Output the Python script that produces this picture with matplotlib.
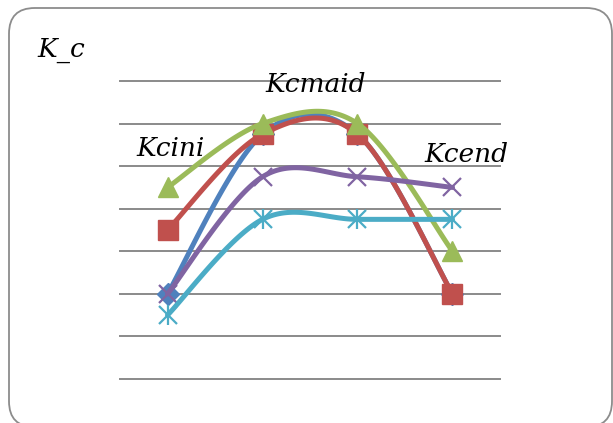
import numpy as np
import matplotlib
matplotlib.use("Agg")
import matplotlib.pyplot as plt
from matplotlib.patches import FancyBboxPatch

# Crop coefficient by growth stage
stages = ["1", "2", "3", "4"]
kc_blue = [0.40, 1.15, 1.15, 0.40]
kc_red = [0.70, 1.15, 1.15, 0.40]
kc_green = [0.90, 1.20, 1.20, 0.60]
kc_purple = [0.40, 0.95, 0.95, 0.90]
kc_cyan = [0.30, 0.75, 0.75, 0.75]
y_ticks = [0.0, 0.2, 0.4, 0.6, 0.8, 1.0, 1.2, 1.4]

W, H = 613, 423
fig = plt.figure(figsize=(W / 100, H / 100), dpi=100)
fig.patch.set_facecolor("white")

# rounded chart-area border (runs just off the bottom edge)
border = FancyBboxPatch((9.0 / W, -4.0 / H), 603 / W, 419 / H,
                        boxstyle="round,pad=0,rounding_size=0.042",
                        transform=fig.transFigure, facecolor="none",
                        edgecolor="#8c8c8c", linewidth=1.3, mutation_aspect=W / H,
                        zorder=-1)
fig.patches.append(border)

ax = fig.add_axes([120 / W, (H - 379) / H, 380 / W, 298 / H])
ax.set_xlim(0.5, 4.5)
ax.set_ylim(0, 1.4)
ax.axis("off")

for yv in y_ticks:
    ax.axhline(yv, color="#8a8a8a", lw=1.4, zorder=1, clip_on=False)


def smooth(xs, ys, n=40):
    """Cubic Bezier smoothing through the points (Catmull-Rom style)."""
    P = np.column_stack([xs, ys]).astype(float)
    ext = np.vstack([P[0], P, P[-1]])
    out = []
    t = np.linspace(0, 1, n)[:, None]
    for i in range(len(P) - 1):
        p0, p1, p2, p3 = ext[i], ext[i + 1], ext[i + 2], ext[i + 3]
        c1 = p1 + (p2 - p0) / 6
        c2 = p2 - (p3 - p1) / 6
        seg = ((1 - t) ** 3) * p1 + 3 * ((1 - t) ** 2) * t * c1 + 3 * (1 - t) * t ** 2 * c2 + t ** 3 * p2
        out.append(seg if i == 0 else seg[1:])
    s = np.vstack(out)
    return s[:, 0], s[:, 1]


x = np.arange(1, len(stages) + 1)
series = [
    (kc_blue, "#4F81BD", "D", 11),
    (kc_red, "#C0504D", "s", 14),
    (kc_green, "#9BBB59", "^", 15),
    (kc_purple, "#8064A2", "x", 13),
    (kc_cyan, "#4BACC6", "x", 13),
]
for z, (vals, col, mk, ms) in enumerate(series):
    sx, sy = smooth(x, vals)
    ax.plot(sx, sy, color=col, lw=3.6, solid_capstyle="round", zorder=3 + z * 2)
    if mk == "x":
        ax.plot(x, vals, ls="none", marker="x", ms=ms, mew=1.6, color=col,
                zorder=4 + z * 2, clip_on=False)
        if col == "#4BACC6":
            ax.plot(x, vals, ls="none", marker="|", ms=ms * 1.15, mew=1.6, color=col,
                    zorder=4 + z * 2, clip_on=False)
    else:
        ax.plot(x, vals, ls="none", marker=mk, ms=ms, color=col, mec=col,
                zorder=4 + z * 2, clip_on=False)

font = dict(family="DejaVu Serif", style="italic", color="black")
fig.text(37 / W, 1 - 50 / H, "K_c", fontsize=19, va="center", ha="left", **font)
fig.text(316 / W, 1 - 84 / H, "Kcmaid", fontsize=19, va="center", ha="center", **font)
fig.text(171 / W, 1 - 148 / H, "Kcini", fontsize=19, va="center", ha="center", **font)
fig.text(466 / W, 1 - 155 / H, "Kcend", fontsize=19, va="center", ha="center", **font)

fig.savefig("out.png", dpi=100, facecolor="white")
